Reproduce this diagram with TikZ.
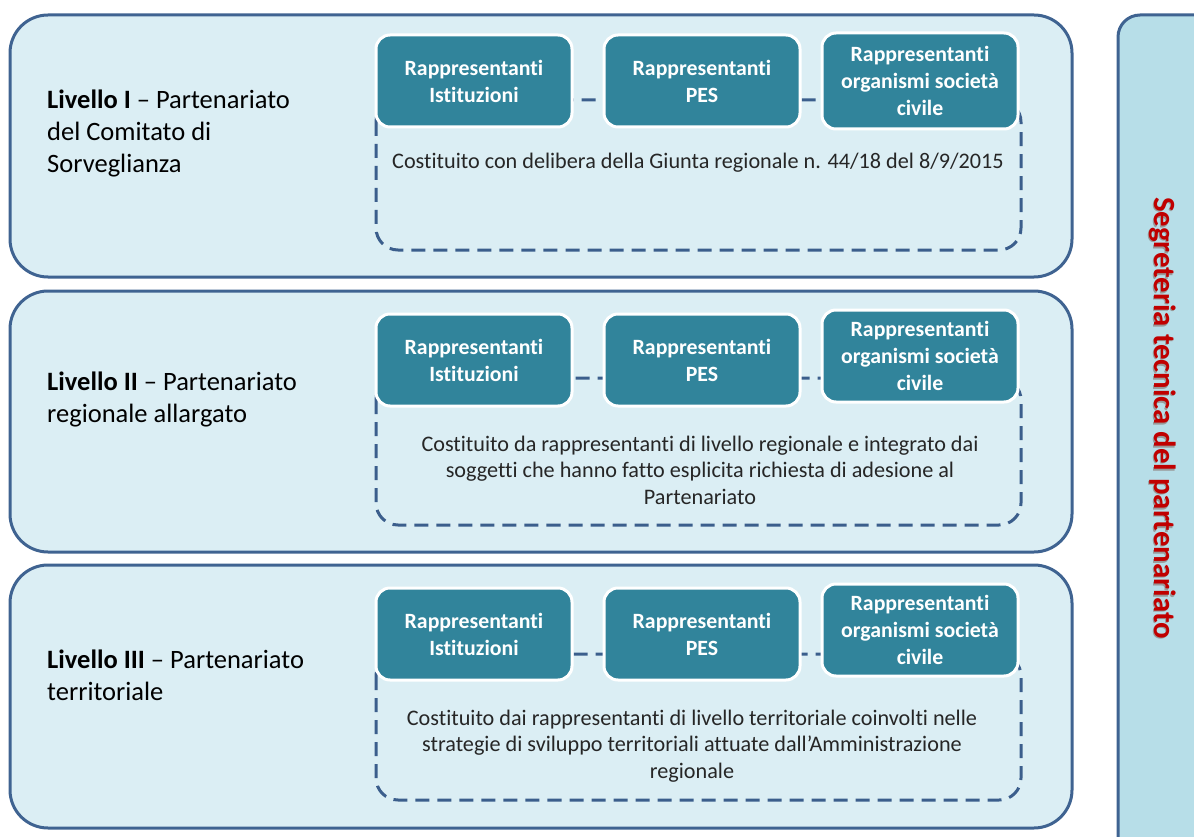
\documentclass[tikz,border=0pt]{standalone}
\usepackage{fontspec}
\setmainfont{Carlito}[Ligatures=NoCommon]
\definecolor{panelfill}{HTML}{DBEEF4}
\definecolor{panelline}{HTML}{3F6391}
\definecolor{sidefill}{HTML}{B7DEE8}
\definecolor{boxfill}{HTML}{31849B}
\definecolor{dashline}{HTML}{3B5E8C}
\definecolor{sidetext}{HTML}{C00000}
\begin{document}
\begin{tikzpicture}[x=1pt,y=-1pt,
  panel/.style={draw=panelline, line width=3pt, fill=panelfill, rounded corners=38pt},
  sidebar/.style={draw=panelline, line width=3pt, fill=sidefill, rounded corners=22pt},
  dashbox/.style={draw=dashline, line width=3pt, dash pattern=on 14pt off 8pt, rounded corners=22pt},
  repbox/.style={draw=white, line width=3pt, fill=boxfill, rounded corners=14pt,
    minimum width=196pt, minimum height=92pt, inner sep=0pt, align=center,
    text=white, font=\fontsize{21.8}{27}\selectfont\bfseries},
  lbl/.style={anchor=west, align=left, inner sep=0pt, font=\fontsize{26.5}{32}\selectfont},
  desc/.style={align=center, inner sep=0pt, text=black!85, font=\fontsize{22.2}{26.5}\selectfont},
  sidelbl/.style={rotate=-90, inner sep=0pt, font=\fontsize{30.8}{36}\selectfont\bfseries}
]
\useasboundingbox (0,0) rectangle (1194,837);
\clip (0,0) rectangle (1194,837);

% right sidebar
\draw[sidebar] (1118,15) rectangle (1250,880);
\node[sidelbl, text=black!40] (stsh) at (1161.5,419.5) {Segreteria tecnica del partenariato};
\node[sidelbl, text=sidetext] (st) at (1163,418) {Segreteria tecnica del partenariato};

% panels
\draw[panel] (10,15) rectangle (1072,277);
\draw[panel] (10,291) rectangle (1072,552);
\draw[panel] (10,565) rectangle (1072,828);

% level I
\node[lbl] (l1) at (47,133) {\textbf{Livello I} – Partenariato\\del Comitato di\\Sorveglianza};
\draw[dashbox] (376,100) rectangle (1021,250);
\node[repbox] (a1) at (474,81) {Rappresentanti\\Istituzioni};
\node[repbox] (a2) at (702,81) {Rappresentanti\\PES};
\node[repbox, minimum height=96pt] (a3) at (920,81) {Rappresentanti\\organismi società\\civile};
\node[desc] (d1) at (698,163) {Costituito con delibera della Giunta regionale n. 44/18 del 8/9/2015};

% level II
\node[lbl] (l2) at (47,399) {\textbf{Livello II} – Partenariato\\regionale allargato};
\draw[dashbox] (376,378) rectangle (1021,525);
\node[repbox] (b1) at (474,360) {Rappresentanti\\Istituzioni};
\node[repbox] (b2) at (702,360) {Rappresentanti\\PES};
\node[repbox] (b3) at (920,356) {Rappresentanti\\organismi società\\civile};
\node[desc] (d2) at (700,470) {Costituito da rappresentanti di livello regionale e integrato dai\\soggetti che hanno fatto esplicita richiesta di adesione al\\Partenariato};

% level III
\node[lbl] (l3) at (47,675) {\textbf{Livello III} – Partenariato\\territoriale};
\draw[dashbox] (376,654) rectangle (1021,800);
\node[repbox] (c1) at (474,634) {Rappresentanti\\Istituzioni};
\node[repbox] (c2) at (702,634) {Rappresentanti\\PES};
\node[repbox] (c3) at (920,630) {Rappresentanti\\organismi società\\civile};
\node[desc] (d3) at (692,746) {Costituito dai rappresentanti di livello territoriale coinvolti nelle\\strategie di sviluppo territoriali attuate dall’Amministrazione\\regionale};
\end{tikzpicture}
\end{document}
